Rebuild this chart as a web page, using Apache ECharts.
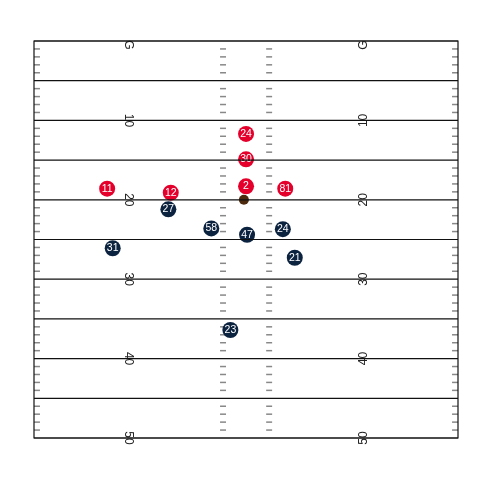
<!DOCTYPE html>
<html><head><meta charset="utf-8">
<script src="https://cdn.jsdelivr.net/npm/echarts@6/dist/echarts.min.js"></script>
<style>html,body{margin:0;padding:0;background:#fff}#c{width:480px;height:480px}</style>
</head><body><div id="c"></div>
<script>
// Field structure
var yardLines = [0, 5, 10, 15, 20, 25, 30, 35, 40, 45, 50];
var hashYards = [1,2,3,4,6,7,8,9,11,12,13,14,16,17,18,19,21,22,23,24,26,27,28,29,31,32,33,34,36,37,38,39,41,42,43,44,46,47,48,49];
var numberLabels = ['G', '10', '20', '30', '40', '50'];
var numberYards = [0.5, 10, 20, 30, 40, 50];
// Players: [x across field (yards), y downfield (yards)]
var offenseNumbers = ['24', '30', '2', '81', '11', '12'];
var offenseX = [26.67, 26.67, 26.67, 31.6, 9.2, 17.2];
var offenseY = [11.7, 14.9, 18.3, 18.6, 18.6, 19.1];
var defenseNumbers = ['27', '58', '47', '24', '21', '31', '23'];
var defenseX = [16.9, 22.3, 26.8, 31.3, 32.8, 9.9, 24.7];
var defenseY = [21.2, 23.6, 24.4, 23.7, 27.3, 26.1, 36.4];
var ballX = [26.4];
var ballY = [20.0];

var FIELD_W = 53.33;
var hashSegs = [[0, 0.75], [23.4, 24.15], [29.2, 29.95], [52.58, 53.33]];

function pts(xs, ys, labels) {
  return xs.map(function (x, i) { return { value: [x, ys[i]], name: labels ? labels[i] : '' }; });
}

var chart = echarts.init(document.getElementById('c'), null, { renderer: 'canvas' });
chart.setOption({
  animation: false,
  grid: { left: 34, top: 41, width: 424, height: 397 },
  xAxis: { type: 'value', min: 0, max: FIELD_W, show: false },
  yAxis: { type: 'value', min: 0, max: 50, inverse: true, show: false },
  series: [
    {
      type: 'custom', z: 1, silent: true,
      data: hashYards.map(function (y) { return [y]; }),
      renderItem: function (params, api) {
        var y = api.value(0);
        var children = hashSegs.map(function (s) {
          var a = api.coord([s[0], y]), b = api.coord([s[1], y]);
          return { type: 'line', shape: { x1: a[0], y1: a[1], x2: b[0], y2: b[1] },
                   style: { stroke: '#888', lineWidth: 1.5 } };
        });
        return { type: 'group', children: children };
      }
    },
    {
      type: 'custom', z: 1, silent: true,
      data: numberYards.map(function (y, i) { return [y, numberLabels[i]]; }),
      renderItem: function (params, api) {
        var y = api.value(0);
        var t = numberLabels[params.dataIndex];
        var l = api.coord([11.8, y]), r = api.coord([41.5, y]);
        return { type: 'group', children: [
          { type: 'text', x: l[0], y: l[1], rotation: -Math.PI / 2,
            style: { text: t, fill: '#222', font: '12px "Liberation Sans", Arial, sans-serif', align: 'center', verticalAlign: 'middle' } },
          { type: 'text', x: r[0], y: r[1], rotation: Math.PI / 2,
            style: { text: t, fill: '#222', font: '12px "Liberation Sans", Arial, sans-serif', align: 'center', verticalAlign: 'middle' } }
        ] };
      }
    },
    {
      type: 'scatter', z: 3, symbol: 'circle', symbolSize: 16,
      data: pts(offenseX, offenseY, offenseNumbers),
      itemStyle: { color: '#E4002B', opacity: 1 },
      label: { show: true, position: 'inside', formatter: '{b}', color: '#fff', fontSize: 10.5, fontFamily: 'Liberation Sans, Arial, sans-serif' }
    },
    {
      type: 'scatter', z: 3, symbol: 'circle', symbolSize: 16,
      data: pts(defenseX, defenseY, defenseNumbers),
      itemStyle: { color: '#0C2340', opacity: 1 },
      label: { show: true, position: 'inside', formatter: '{b}', color: '#fff', fontSize: 10.5, fontFamily: 'Liberation Sans, Arial, sans-serif' }
    },
    {
      type: 'scatter', z: 3, symbol: 'circle', symbolSize: 10,
      data: pts(ballX, ballY),
      itemStyle: { color: '#4B2A0E', opacity: 1 }
    },
    {
      type: 'custom', z: 5, silent: true,
      data: yardLines.map(function (y) { return [y]; }),
      renderItem: function (params, api) {
        var y = api.value(0);
        var a = api.coord([0, y]), b = api.coord([FIELD_W, y]);
        return { type: 'line', shape: { x1: a[0], y1: a[1], x2: b[0], y2: b[1] },
                 style: { stroke: '#111', lineWidth: 1.2 } };
      }
    },
    {
      type: 'custom', z: 5, silent: true,
      data: [[0]],
      renderItem: function (params, api) {
        var a = api.coord([0, 0]), b = api.coord([FIELD_W, 50]);
        return { type: 'rect', shape: { x: a[0], y: a[1], width: b[0] - a[0], height: b[1] - a[1] },
                 style: { fill: null, stroke: '#111', lineWidth: 1.2 } };
      }
    }
  ]
});
</script></body></html>
